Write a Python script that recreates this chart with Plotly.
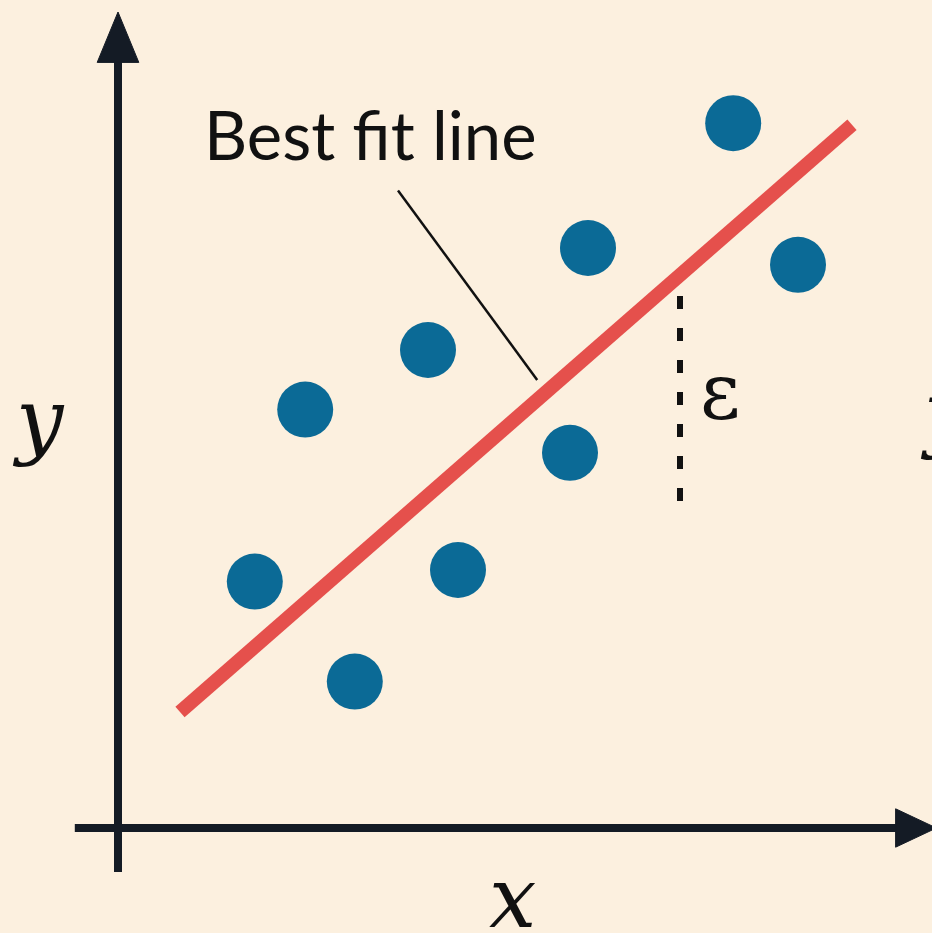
import plotly.graph_objects as go

# ---- data (units: 1 = 80 px, origin at the axes crossing) ----
pts_x = [1.71, 2.34, 2.96, 3.875, 4.25, 5.65, 5.875, 7.69, 8.5]
pts_y = [3.08, 5.23, 1.83, 5.975, 3.225, 4.69, 7.25, 8.81, 7.04]

fit_x = [0.775, 9.175]
fit_y = [1.45, 8.79]

leader_x = [3.5, 5.24]
leader_y = [7.97, 5.6]

resid_x = [7.025, 7.025]
resid_y = [6.65, 3.95]

BG = "#FCF0DF"
AX = "#141B25"

fig = go.Figure()

fig.add_trace(go.Scatter(x=leader_x, y=leader_y, mode="lines",
                         line=dict(color="#111111", width=2.5), hoverinfo="skip"))
fig.add_trace(go.Scatter(x=resid_x, y=resid_y, mode="lines",
                         line=dict(color="#111111", width=6, dash="13px,19px"), hoverinfo="skip"))
fig.add_trace(go.Scatter(x=fit_x, y=fit_y, mode="lines",
                         line=dict(color="#E5504C", width=14), hoverinfo="skip"))
fig.add_trace(go.Scatter(x=pts_x, y=pts_y, mode="markers",
                         marker=dict(color="#0B6A96", size=56, line=dict(width=0)),
                         hoverinfo="skip"))

# axes arrows
fig.add_shape(type="line", x0=0, x1=0, y0=-0.55, y1=9.7, line=dict(color=AX, width=8))
fig.add_shape(type="line", x0=-0.54, x1=9.8, y0=0, y1=0, line=dict(color=AX, width=8))
fig.add_shape(type="path", path="M -0.26 9.57 L 0 10.2 L 0.26 9.57 Z",
              fillcolor=AX, line=dict(color=AX, width=1))
fig.add_shape(type="path", path="M 9.72 0.24 L 10.23 0 L 9.72 -0.24 Z",
              fillcolor=AX, line=dict(color=AX, width=1))

fig.add_annotation(x=3.15, y=8.68, text="Best fit line", showarrow=False,
                   font=dict(family="Lato", size=67, color="#111111"))
fig.add_annotation(x=7.525, y=5.45, text="ε", showarrow=False,
                   font=dict(family="DejaVu Serif", size=78, color="#111111"))
fig.add_annotation(x=-1.0, y=5.11, text="<i>y</i>", showarrow=False,
                   font=dict(family="DejaVu Serif", size=84, color="#111111"))
fig.add_annotation(x=4.925, y=-0.875, text="<i>x</i>", showarrow=False,
                   font=dict(family="DejaVu Serif", size=84, color="#111111"))
fig.add_annotation(x=918 / 932, y=5.2, xref="paper", xanchor="left", text="<i>ŷ</i>",
                   showarrow=False,
                   font=dict(family="DejaVu Serif", size=84, color="#111111"))

fig.update_layout(
    width=932, height=933,
    margin=dict(l=0, r=0, t=0, b=0),
    paper_bgcolor=BG, plot_bgcolor=BG,
    showlegend=False,
    xaxis=dict(range=[-1.475, 10.175], visible=False, fixedrange=True),
    yaxis=dict(range=[-1.3125, 10.35], visible=False, fixedrange=True),
)

fig.write_html(
    "out.html",
    config={"displayModeBar": False},
    post_script="document.body.style.margin='0';document.body.style.overflow='hidden';"
                "document.body.style.background='%s';" % BG,
)
